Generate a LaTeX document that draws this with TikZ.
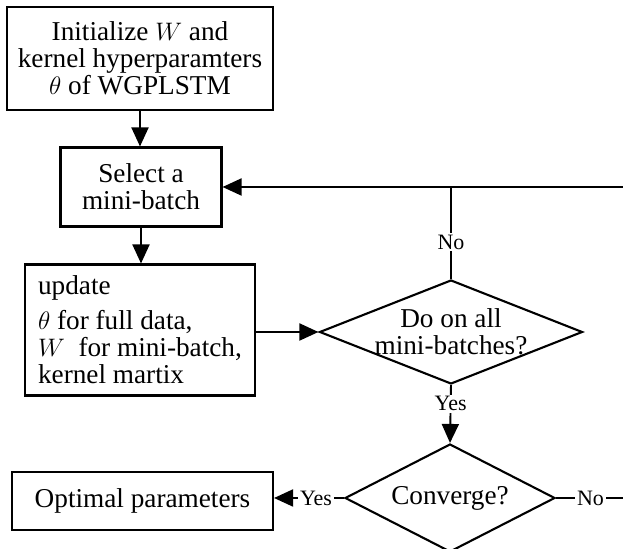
\documentclass[tikz,border=0pt]{standalone}
\usepackage{amsmath}
\usepackage{fontspec}
\setmainfont{Liberation Serif}
\usetikzlibrary{arrows.meta,positioning,shapes.geometric}

\begin{document}
\begin{tikzpicture}[
  box/.style={draw, line width=1.2pt, font=\fontsize{15.5}{15.5}\selectfont, align=center, inner sep=2pt},
  decision/.style={draw, diamond, line width=1.2pt, font=\fontsize{15.5}{15.5}\selectfont, align=center, inner sep=-3pt},
  lbl/.style={fill=white, inner sep=1pt, font=\fontsize{12.5}{13}\selectfont},
  flow/.style={line width=1.1pt, -{Triangle[length=0.38cm, width=0.34cm]}},
  wire/.style={line width=1.1pt}]
\useasboundingbox (0,0) rectangle (12.46,-10.98);
% Boxes on the left
\node[box, minimum width=5.32cm, minimum height=2.06cm] (init) at (2.80,-1.17)
  {Initialize $W$ and\\kernel hyperparamters\\$\theta$ of WGPLSTM};
\node[box, minimum width=3.22cm, minimum height=1.58cm] (sel) at (2.82,-3.74)
  {Select a\\mini-batch};
\node[box, minimum width=4.60cm, minimum height=2.62cm, align=left] (upd) at (2.80,-6.60)
  {update\\[4pt]$\theta$ for full data,\\$W$\ \ for mini-batch,\\kernel martix};
\node[box, minimum width=5.22cm, minimum height=1.16cm] (opt) at (2.85,-10.02)
  {Optimal parameters};
% Decisions
\node[decision, aspect=2.53, minimum width=5.26cm, minimum height=2.08cm] (alldone) at (9.02,-6.64)
  {Do on all\\mini-batches?};
\node[decision, aspect=1.94, minimum width=4.20cm, minimum height=2.16cm] (conv) at (9.00,-9.96)
  {Converge?};
\coordinate (turn) at (12.8,-9.96);
% Connectors
\draw[flow] (init.south) -- (init.south |- sel.north);
\draw[flow] (sel.south) -- (sel.south |- upd.north);
\draw[flow] (upd.east |- alldone.west) -- (alldone.west);
\draw[flow] (alldone.south) -- node[lbl, pos=0.32]{Yes} (conv.north);
\draw[flow] (conv.west) -- node[lbl, pos=0.4]{Yes} (opt.east |- conv.west);
\draw[flow] (conv.east) -- node[lbl, pos=0.41]{No} (turn) |- (sel.east);
\draw[wire] (alldone.north) -- node[lbl, pos=0.4]{No} (alldone.north |- sel.east);
\end{tikzpicture}
\end{document}
